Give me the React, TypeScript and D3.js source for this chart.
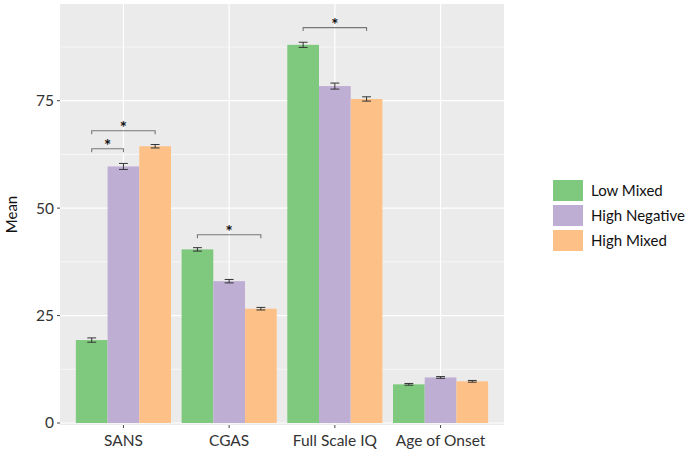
import React from "react";
import * as d3 from "d3";

const categories = ["SANS", "CGAS", "Full Scale IQ", "Age of Onset"];
const groups = ["Low Mixed", "High Negative", "High Mixed"];
const colors = ["#7FC97F", "#BEAED4", "#FDC086"];
const lowMixed = [19.3, 40.4, 88.0, 9.0];
const highNegative = [59.7, 33.0, 78.4, 10.6];
const highMixed = [64.4, 26.6, 75.4, 9.7];
const lowMixedErr = [0.5, 0.4, 0.6, 0.2];
const highNegativeErr = [0.7, 0.4, 0.7, 0.2];
const highMixedErr = [0.4, 0.3, 0.5, 0.2];
const yTicks = [0, 25, 50, 75];
const yMinor = [12.5, 37.5, 62.5, 87.5];
// significance brackets: category index, from group, to group, height
const bracketCat = [0, 0, 1, 2];
const bracketFrom = [0, 0, 0, 0];
const bracketTo = [1, 2, 2, 2];
const bracketY = [63.8, 68.0, 43.8, 92.0];

const values = [lowMixed, highNegative, highMixed];
const errs = [lowMixedErr, highNegativeErr, highMixedErr];

export default function App() {
  const W = 689, H = 453;
  const pl = 60, pr = 504, pt = 4, pb = 425;
  const font = "Lato, 'Open Sans', sans-serif";
  const unit = (pr - pl) / 4.2;
  const cx = (i: number) => pl + unit * (0.6 + i);
  const barW = unit * 0.9 / 3;
  const bx = (c: number, g: number) => cx(c) - unit * 0.45 + g * barW;
  const y = d3.scaleLinear().domain([0, 97.5]).range([423, pt]);
  const tickLen = 0.8;
  return (
    <svg width={W} height={H} style={{ position: "absolute", left: 0, top: 0, background: "#fff" }}>
      <rect x={pl} y={pt} width={pr - pl} height={pb - pt} fill="#EBEBEB" />
      {yMinor.map((t) => (
        <line key={"mi" + t} x1={pl} x2={pr} y1={y(t)} y2={y(t)} stroke="#fff" strokeWidth={0.6} />
      ))}
      {yTicks.map((t) => (
        <line key={"ma" + t} x1={pl} x2={pr} y1={y(t)} y2={y(t)} stroke="#fff" strokeWidth={1.2} />
      ))}
      {categories.map((c, i) => (
        <line key={"v" + c} x1={cx(i)} x2={cx(i)} y1={pt} y2={pb} stroke="#fff" strokeWidth={1.2} />
      ))}
      {categories.map((c, ci) =>
        groups.map((g, gi) => (
          <rect key={c + g} x={bx(ci, gi)} y={y(values[gi][ci])} width={barW} height={y(0) - y(values[gi][ci])} fill={colors[gi]} />
        ))
      )}
      {categories.map((c, ci) =>
        groups.map((g, gi) => {
          const m = bx(ci, gi) + barW / 2;
          const hw = barW * 0.14;
          const v = values[gi][ci], e = errs[gi][ci];
          return (
            <g key={"e" + c + g} stroke="#333" strokeWidth={1}>
              <line x1={m} x2={m} y1={y(v - e)} y2={y(v + e)} />
              <line x1={m - hw} x2={m + hw} y1={y(v - e)} y2={y(v - e)} />
              <line x1={m - hw} x2={m + hw} y1={y(v + e)} y2={y(v + e)} />
            </g>
          );
        })
      )}
      {bracketCat.map((c, i) => {
        const x1 = bx(c, bracketFrom[i]) + barW / 2;
        const x2 = bx(c, bracketTo[i]) + barW / 2;
        const yy = y(bracketY[i]);
        const yb = y(bracketY[i] - tickLen);
        return (
          <g key={"b" + i}>
            <path d={`M${x1},${yb}L${x1},${yy}L${x2},${yy}L${x2},${yb}`} fill="none" stroke="#777" strokeWidth={1.1} />
            <text x={(x1 + x2) / 2} y={yy + 3} textAnchor="middle" fontSize={17} fontFamily={font} fill="#111" fontWeight="bold">*</text>
          </g>
        );
      })}
      {yTicks.map((t) => (
        <g key={"yt" + t}>
          <line x1={pl - 3} x2={pl} y1={y(t)} y2={y(t)} stroke="#444" strokeWidth={1} />
          <text x={pl - 6} y={y(t)} dy="0.35em" textAnchor="end" fontSize={15.5} fontFamily={font} fill="#333">{t}</text>
        </g>
      ))}
      {categories.map((c, i) => (
        <g key={"xt" + c}>
          <line x1={cx(i)} x2={cx(i)} y1={pb} y2={pb + 3} stroke="#444" strokeWidth={1} />
          <text x={cx(i)} y={pb + 21} textAnchor="middle" fontSize={15.5} fontFamily={font} fill="#333">{c}</text>
        </g>
      ))}
      <text transform={`translate(17,${(pt + pb) / 2}) rotate(-90)`} textAnchor="middle" fontSize={15} fontFamily={font} fill="#111">Mean</text>
      {groups.map((g, i) => (
        <g key={"lg" + g}>
          <rect x={553} y={180 + i * 25} width={30} height={21} fill={colors[i]} />
          <text x={591} y={190.5 + i * 25} dy="0.35em" fontSize={15} fontFamily={font} fill="#111">{g}</text>
        </g>
      ))}
    </svg>
  );
}
